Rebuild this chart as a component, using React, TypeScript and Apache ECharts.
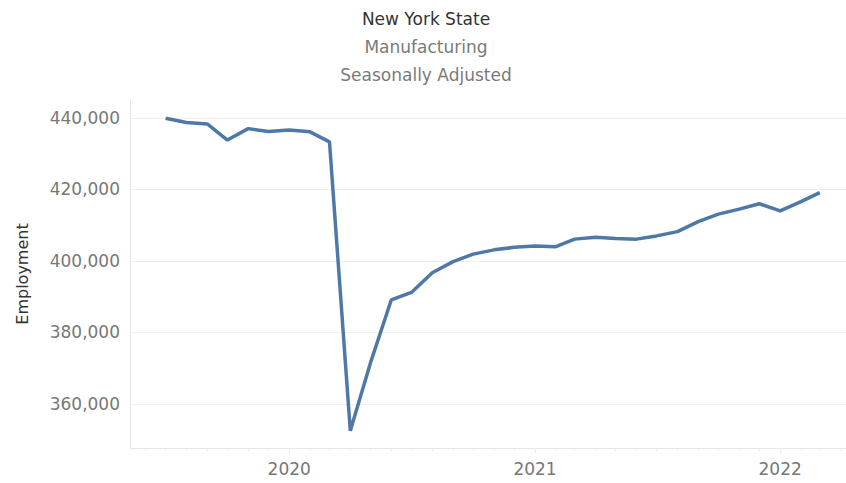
import React, { useEffect, useRef } from "react";
import * as echarts from "echarts";

const months: string[] = [
  "2019-07", "2019-08", "2019-09", "2019-10", "2019-11", "2019-12",
  "2020-01", "2020-02", "2020-03", "2020-04", "2020-05", "2020-06",
  "2020-07", "2020-08", "2020-09", "2020-10", "2020-11", "2020-12",
  "2021-01", "2021-02", "2021-03", "2021-04", "2021-05", "2021-06",
  "2021-07", "2021-08", "2021-09", "2021-10", "2021-11", "2021-12",
  "2022-01", "2022-02", "2022-03",
];

const employment: number[] = [
  439900, 438700, 438300, 433800, 437000, 436200,
  436600, 436100, 433300, 352500, 371500, 389100,
  391200, 396700, 399800, 401900, 403100, 403800,
  404200, 404000, 406100, 406600, 406300, 406100,
  407000, 408200, 411000, 413100, 414500, 416000,
  414000, 416600, 419100,
];

const yTicks: number[] = [360000, 380000, 400000, 420000, 440000];
const yearTicks: string[] = ["2020-01", "2021-01", "2022-01"];
const minorTicks: string[] = [
  "2019-06", "2019-07", "2019-08", "2019-09", "2019-10", "2019-11", "2019-12",
  "2020-01", "2020-02", "2020-03", "2020-04", "2020-05", "2020-06",
  "2020-07", "2020-08", "2020-09", "2020-10", "2020-11", "2020-12",
  "2021-01", "2021-02", "2021-03", "2021-04", "2021-05", "2021-06",
  "2021-07", "2021-08", "2021-09", "2021-10", "2021-11", "2021-12",
  "2022-01", "2022-02", "2022-03", "2022-04",
];

const titleLines = ["New York State", "Manufacturing", "Seasonally Adjusted"];

function ts(ym: string, day = 1): number {
  const [y, m] = ym.split("-").map(Number);
  return new Date(y, m - 1, day).getTime();
}

const FONT = "'DejaVu Sans', sans-serif";

export default function App() {
  const ref = useRef<HTMLDivElement>(null);
  useEffect(() => {
    if (!ref.current) return;
    const chart = echarts.init(ref.current, undefined, { renderer: "svg" });
    const xMin = ts("2019-05", 9);
    const xMax = ts("2022-04", 9);
    chart.setOption({
      animation: false,
      backgroundColor: "#ffffff",
      title: titleLines.map((t, i) => ({
        text: t,
        left: 421,
        top: 5 + i * 28,
        textAlign: "center",
        textStyle: {
          fontFamily: FONT,
          fontSize: 17,
          fontWeight: "normal",
          color: i === 0 ? "#333333" : "#7a7a7a",
        },
      })),
      grid: { left: 130, right: 0, top: 100, bottom: 35 },
      xAxis: [
        {
          type: "value",
          min: xMin,
          max: xMax,
          axisLine: { show: true, lineStyle: { color: "#e6e6e6", width: 1 } },
          axisTick: {
            show: true,
            customValues: yearTicks.map((m) => ts(m)),
            length: 5,
            lineStyle: { color: "#e6e6e6" },
          },
          axisLabel: {
            customValues: yearTicks.map((m) => ts(m)),
            formatter: (v: number) => String(new Date(v).getFullYear()),
            color: "#777777",
            fontFamily: FONT,
            fontSize: 17,
            margin: 12,
          },
          splitLine: { show: false },
        },
        {
          type: "value",
          min: xMin,
          max: xMax,
          position: "bottom",
          axisLine: { show: false },
          axisTick: {
            show: true,
            customValues: minorTicks.map((m) => ts(m)),
            length: 3,
            lineStyle: { color: "#ececec" },
          },
          axisLabel: { show: false },
          splitLine: { show: false },
        },
      ],
      yAxis: {
        type: "value",
        min: 347700,
        max: 445000,
        name: "Employment",
        nameLocation: "middle",
        nameGap: 100,
        nameTextStyle: { color: "#333333", fontFamily: FONT, fontSize: 16 },
        axisLine: { show: true, lineStyle: { color: "#e6e6e6" } },
        axisTick: { show: false, customValues: yTicks },
        axisLabel: {
          customValues: yTicks,
          formatter: (v: number) => v.toLocaleString("en-US"),
          color: "#777777",
          fontFamily: FONT,
          fontSize: 17,
          margin: 10,
        },
        splitLine: { show: true, lineStyle: { color: "#f0f0f0", width: 1 } },
      },
      series: [
        {
          type: "line",
          data: months.map((m, i) => [ts(m), employment[i]]),
          showSymbol: false,
          lineStyle: { color: "#4e79a7", width: 3.5 },
          itemStyle: { color: "#4e79a7" },
        },
      ],
    });
    return () => chart.dispose();
  }, []);
  return (
    <div
      ref={ref}
      style={{ position: "fixed", left: 0, top: 0, width: 846, height: 483 }}
    />
  );
}
